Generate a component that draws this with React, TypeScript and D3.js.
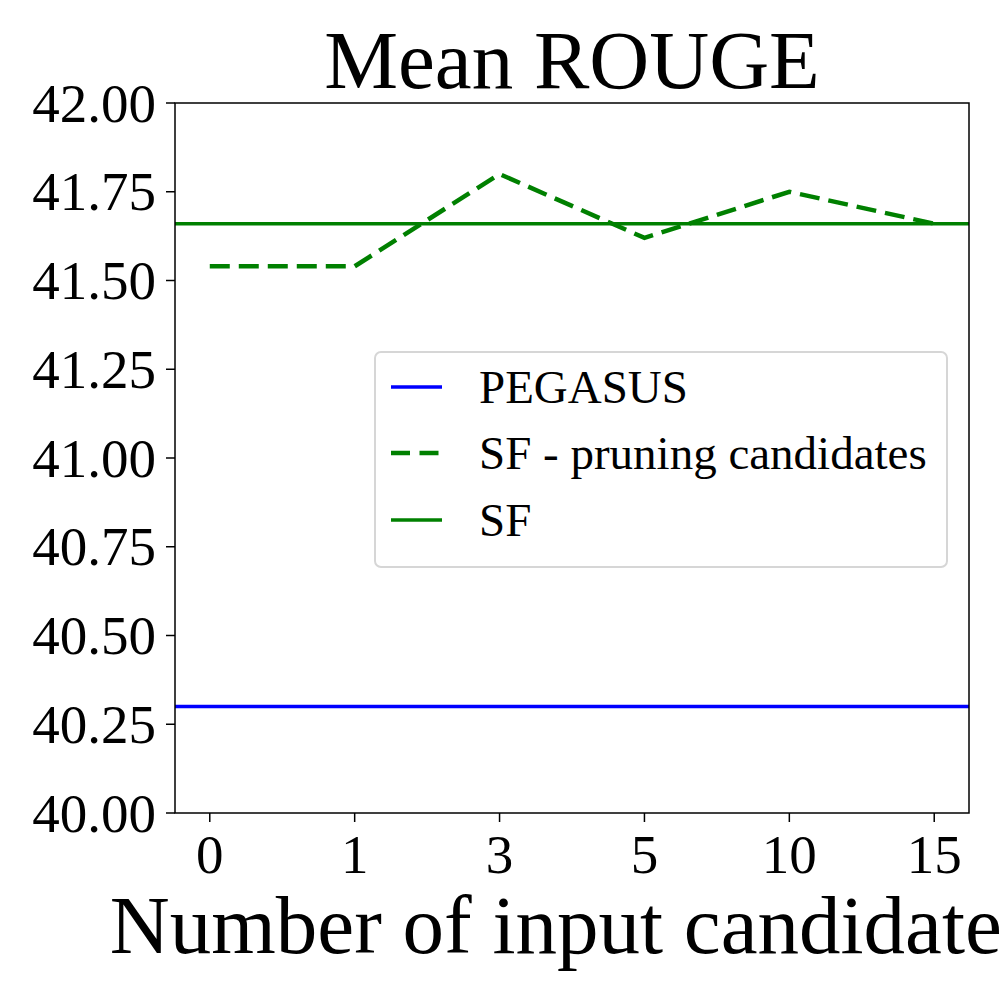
import React from "react";
import * as d3 from "d3";

const categories = ["0", "1", "3", "5", "10", "15"];
const sfPruning = [41.54, 41.54, 41.8, 41.62, 41.75, 41.66];
const sfValue = 41.66;
const pegasusValue = 40.3;
const yTicks = [40, 40.25, 40.5, 40.75, 41, 41.25, 41.5, 41.75, 42];
const legendItems = [
  { label: "PEGASUS", color: "#0000ff", dashed: false },
  { label: "SF - pruning candidates", color: "#008000", dashed: true },
  { label: "SF", color: "#008000", dashed: false },
];

const W = 1000, H = 1000;
const left = 175, right = 969, top = 103, bottom = 813;
const FONT = "'Liberation Serif', 'Times New Roman', serif";

export default function App() {
  const x = d3.scalePoint<string>().domain(categories).range([left, right]).padding(0.24);
  const y = d3.scaleLinear().domain([40, 42]).range([bottom, top]);
  const line = d3.line<number>().x((_, i) => x(categories[i])!).y((d) => y(d));
  const cx = (left + right) / 2;
  const lgX = 375, lgY = 352, lgW = 572, lgH = 215;
  const rowY = [387, 453, 520];

  return (
    <svg width={W} height={H} style={{ position: "absolute", left: 0, top: 0, background: "#fff" }} fontFamily={FONT}>
      <rect x={0} y={0} width={W} height={H} fill="#fff" />
      <defs>
        <clipPath id="plot">
          <rect x={left} y={top} width={right - left} height={bottom - top} />
        </clipPath>
      </defs>
      <g clipPath="url(#plot)">
        <line x1={left} x2={right} y1={y(pegasusValue)} y2={y(pegasusValue)} stroke="#0000ff" strokeWidth={3.5} />
        <line x1={left} x2={right} y1={y(sfValue)} y2={y(sfValue)} stroke="#008000" strokeWidth={3.5} />
        <path d={line(sfPruning)!} fill="none" stroke="#008000" strokeWidth={4.5} strokeDasharray="20 9" />
      </g>
      <rect x={left} y={top} width={right - left} height={bottom - top} fill="none" stroke="#000" strokeWidth={1.5} />
      {yTicks.map((t) => (
        <g key={t}>
          <line x1={left - 9} x2={left} y1={y(t)} y2={y(t)} stroke="#000" strokeWidth={1.5} />
          <text x={left - 19} y={y(t)} dy="0.34em" textAnchor="end" fontSize={55}>
            {t.toFixed(2)}
          </text>
        </g>
      ))}
      {categories.map((c) => (
        <g key={c}>
          <line x1={x(c)!} x2={x(c)!} y1={bottom} y2={bottom + 9} stroke="#000" strokeWidth={1.5} />
          <text x={x(c)!} y={873} textAnchor="middle" fontSize={55}>
            {c}
          </text>
        </g>
      ))}
      <text x={cx} y={953} textAnchor="middle" fontSize={83}>
        Number of input candidates
      </text>
      <text x={cx} y={88} textAnchor="middle" fontSize={83}>
        Mean ROUGE
      </text>
      <rect x={lgX} y={lgY} width={lgW} height={lgH} rx={6} fill="#fff" fillOpacity={0.8} stroke="#d6d6d6" strokeWidth={2} />
      {legendItems.map((it, i) => (
        <g key={it.label}>
          <line x1={391} x2={442} y1={rowY[i]} y2={rowY[i]} stroke={it.color}
            strokeWidth={it.dashed ? 4.5 : 3.5} strokeDasharray={it.dashed ? "19 9.5" : undefined} />
          <text x={479} y={rowY[i]} dy="0.34em" fontSize={47}>
            {it.label}
          </text>
        </g>
      ))}
    </svg>
  );
}
